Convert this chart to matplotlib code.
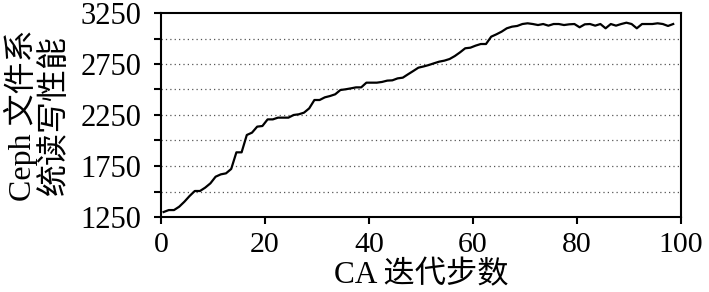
import matplotlib
matplotlib.use("Agg")
import matplotlib.pyplot as plt
import numpy as np

steps = [0.5 + i for i in range(99)]
performance = [
    1299, 1318, 1318, 1351, 1400, 1456, 1505, 1505, 1538, 1580,
    1645, 1668, 1678, 1721, 1884, 1884, 2054, 2077, 2136, 2142,
    2207, 2207, 2224, 2224, 2224, 2250, 2257, 2273, 2315, 2397,
    2397, 2423, 2436, 2453, 2495, 2502, 2511, 2521, 2521, 2567,
    2567, 2567, 2574, 2587, 2590, 2609, 2616, 2649, 2681, 2714,
    2726, 2740, 2757, 2773, 2783, 2799, 2828, 2864, 2904, 2910,
    2930, 2946, 2946, 3018, 3041, 3067, 3100, 3116, 3123, 3142,
    3149, 3142, 3132, 3142, 3126, 3142, 3142, 3132, 3139, 3142,
    3110, 3139, 3142, 3126, 3142, 3100, 3142, 3126, 3142, 3155,
    3142, 3100, 3142, 3142, 3142, 3149, 3142, 3123, 3142,
]
x_ticks = [0, 20, 40, 60, 80, 100]
y_ticks = [1250, 1500, 1750, 2000, 2250, 2500, 2750, 3000, 3250]
y_labels = ["1250", "", "1750", "", "2250", "", "2750", "", "3250"]
x_label = "CA 迭代步数"
y_label = "Ceph 文件系\n统读写性能"

fam = ["Liberation Serif", "Noto Sans CJK SC"]
plt.rcParams["font.family"] = fam

fig = plt.figure(figsize=(7.09, 2.92), dpi=100)
ax = fig.add_axes([161 / 709, 1 - 217 / 292, 520 / 709, 204 / 292])

ax.plot(steps, performance, color="black", linewidth=1.6)

ax.set_xlim(0, 100)
ax.set_ylim(1250, 3250)
ax.set_xticks(x_ticks)
ax.set_xticklabels([str(v) for v in x_ticks], fontsize=21.5)
ax.set_yticks(y_ticks)
ax.set_yticklabels(y_labels, fontsize=22)
ax.tick_params(direction="out", length=5, width=1.5)
ax.tick_params(axis="x", pad=6)
ax.tick_params(axis="y", pad=9)

for v in y_ticks[1:-1]:
    ax.axhline(v, color="#555555", linestyle=(0, (1, 2.5)), linewidth=0.9, zorder=0)

for s in ax.spines.values():
    s.set_linewidth(1.5)

ax.set_xlabel(x_label, fontsize=22.5, labelpad=2)
ax.set_ylabel(y_label, fontsize=23, linespacing=1.08, labelpad=8)

fig.savefig("out.png", dpi=100)
